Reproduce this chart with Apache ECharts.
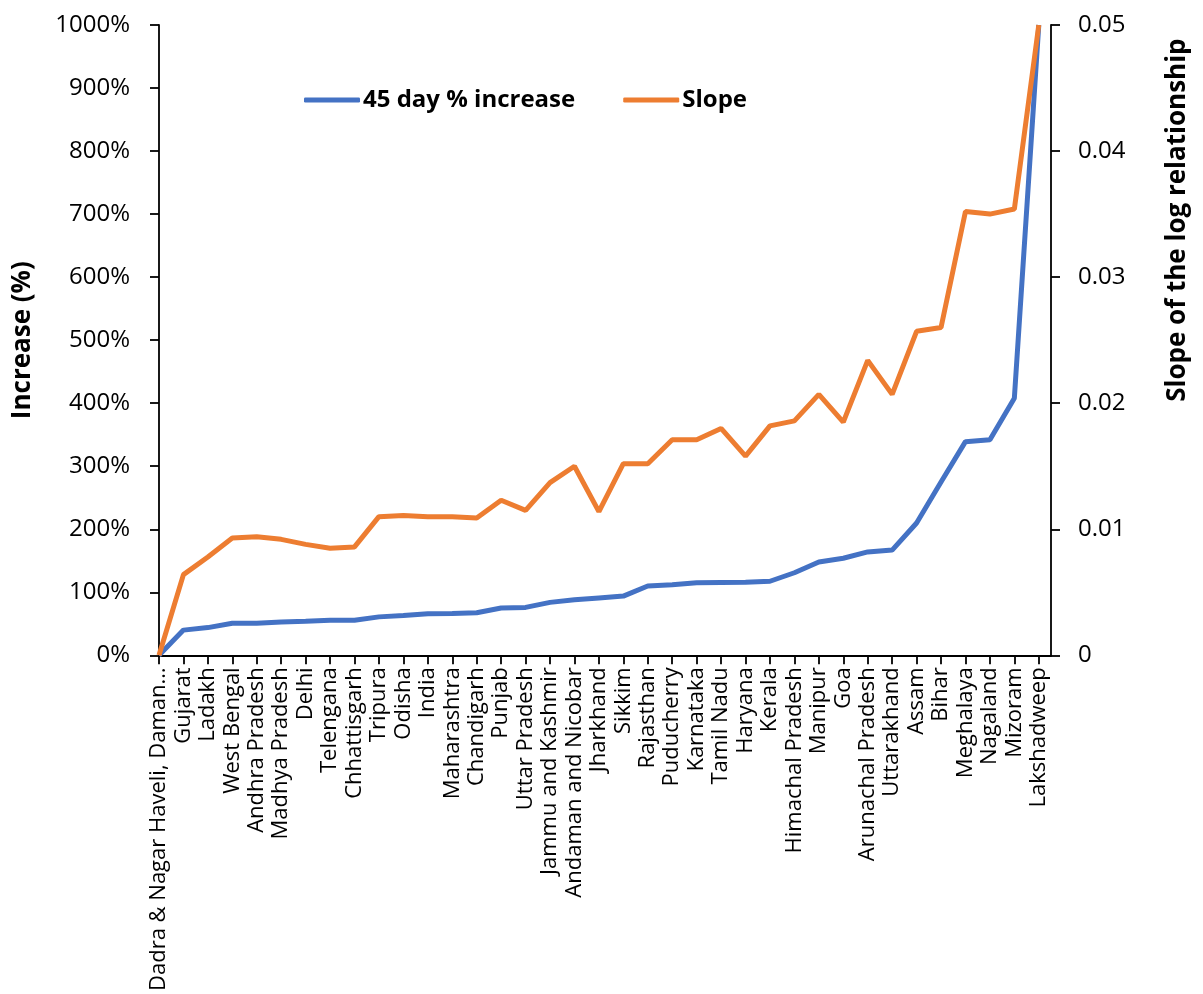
<!DOCTYPE html>
<html>
<head>
<meta charset="utf-8">
<script src="https://cdn.jsdelivr.net/npm/echarts@6/dist/echarts.min.js"></script>
<style>
html,body{margin:0;padding:0;background:#fff;}
#chart{width:1203px;height:994px;}
</style>
</head>
<body>
<div id="chart"></div>
<script>
const categories = ["Dadra & Nagar Haveli, Daman…","Gujarat","Ladakh","West Bengal","Andhra Pradesh","Madhya Pradesh","Delhi","Telengana","Chhattisgarh","Tripura","Odisha","India","Maharashtra","Chandigarh","Punjab","Uttar Pradesh","Jammu and Kashmir","Andaman and Nicobar","Jharkhand","Sikkim","Rajasthan","Puducherry","Karnataka","Tamil Nadu","Haryana","Kerala","Himachal Pradesh","Manipur","Goa","Arunachal Pradesh","Uttarakhand","Assam","Bihar","Meghalaya","Nagaland","Mizoram","Lakshadweep"];
const increasePct = [0,40,44,51,51,53,54,55.5,55.5,61,63,66,66.5,67.5,75,76,84,88,91,94,110,112,115,115.5,116,117.5,131,148,154,164,167,210,275,339,342,408,1000];
const slope = [0,0.0064,0.0078,0.0093,0.0094,0.0092,0.0088,0.0085,0.0086,0.0110,0.0111,0.0110,0.0110,0.0109,0.0123,0.0115,0.0137,0.0150,0.0114,0.0152,0.0152,0.0171,0.0171,0.0180,0.0158,0.0182,0.0186,0.0207,0.0185,0.0234,0.0207,0.0257,0.0260,0.0352,0.0350,0.0354,0.0500];
const seriesNames = ["45 day % increase","Slope"];
const leftTicks = {min:0,max:1000,interval:100};
const rightTicks = {min:0,max:0.05,interval:0.01};

const chart = echarts.init(document.getElementById('chart'), null, {renderer:'canvas'});
const font = "'Open Sans', 'Noto Sans', sans-serif";
const idx = categories.map((c,i)=>i);
const axisLineStyle = {color:'#000', width:1.8};
const tickStyle = {color:'#000', width:1.8};
chart.setOption({
  animation:false,
  backgroundColor:'#fff',
  grid:{left:159,right:152,top:25,bottom:338,containLabel:false},
  legend:{
    left:299, top:83,
    icon:'roundRect',
    itemWidth:56, itemHeight:5, itemGap:48,
    textStyle:{fontFamily:font,fontSize:24,fontWeight:'bold',color:'#000',padding:[0,0,0,-2]},
    data:seriesNames
  },
  xAxis:{
    type:'value', min:0, max:categories.length-0.5, interval:1,
    splitLine:{show:false},
    axisLine:{lineStyle:axisLineStyle},
    axisTick:{show:true,length:9,lineStyle:tickStyle,customValues:idx},
    axisLabel:{rotate:90,margin:12,fontFamily:font,fontSize:22,color:'#000',customValues:idx,
      formatter:(v)=>categories[Math.round(v)]||''}
  },
  yAxis:[{
    type:'value', min:leftTicks.min, max:leftTicks.max, interval:leftTicks.interval,
    name:'Increase (%)', nameLocation:'middle', nameGap:123, nameRotate:90,
    nameTextStyle:{fontFamily:font,fontSize:26,fontWeight:'bold',color:'#000'},
    splitLine:{show:false},
    axisLine:{show:true,lineStyle:axisLineStyle},
    axisTick:{show:true,length:9,lineStyle:tickStyle},
    axisLabel:{margin:29,fontFamily:font,fontSize:24,color:'#000',formatter:(v)=>v+'%'}
  },{
    type:'value', position:'right', min:rightTicks.min, max:rightTicks.max, interval:rightTicks.interval,
    name:'Slope of the log relationship', nameLocation:'middle', nameGap:114, nameRotate:90,
    nameTextStyle:{fontFamily:font,fontSize:26,fontWeight:'bold',color:'#000',padding:[0,0,0,240]},
    splitLine:{show:false},
    axisLine:{show:true,lineStyle:axisLineStyle},
    axisTick:{show:true,length:9,lineStyle:tickStyle},
    axisLabel:{margin:27,fontFamily:font,fontSize:24,color:'#000',formatter:(v)=>String(+v.toFixed(2))}
  }],
  series:[{
    name:seriesNames[0], type:'line', yAxisIndex:0, symbol:'none',
    lineStyle:{color:'#4472C4',width:5}, itemStyle:{color:'#4472C4'},
    data:increasePct.map((v,i)=>[i,v])
  },{
    name:seriesNames[1], type:'line', yAxisIndex:1, symbol:'none',
    lineStyle:{color:'#ED7D31',width:5}, itemStyle:{color:'#ED7D31'},
    data:slope.map((v,i)=>[i,v])
  }]
});
</script>
</body>
</html>
